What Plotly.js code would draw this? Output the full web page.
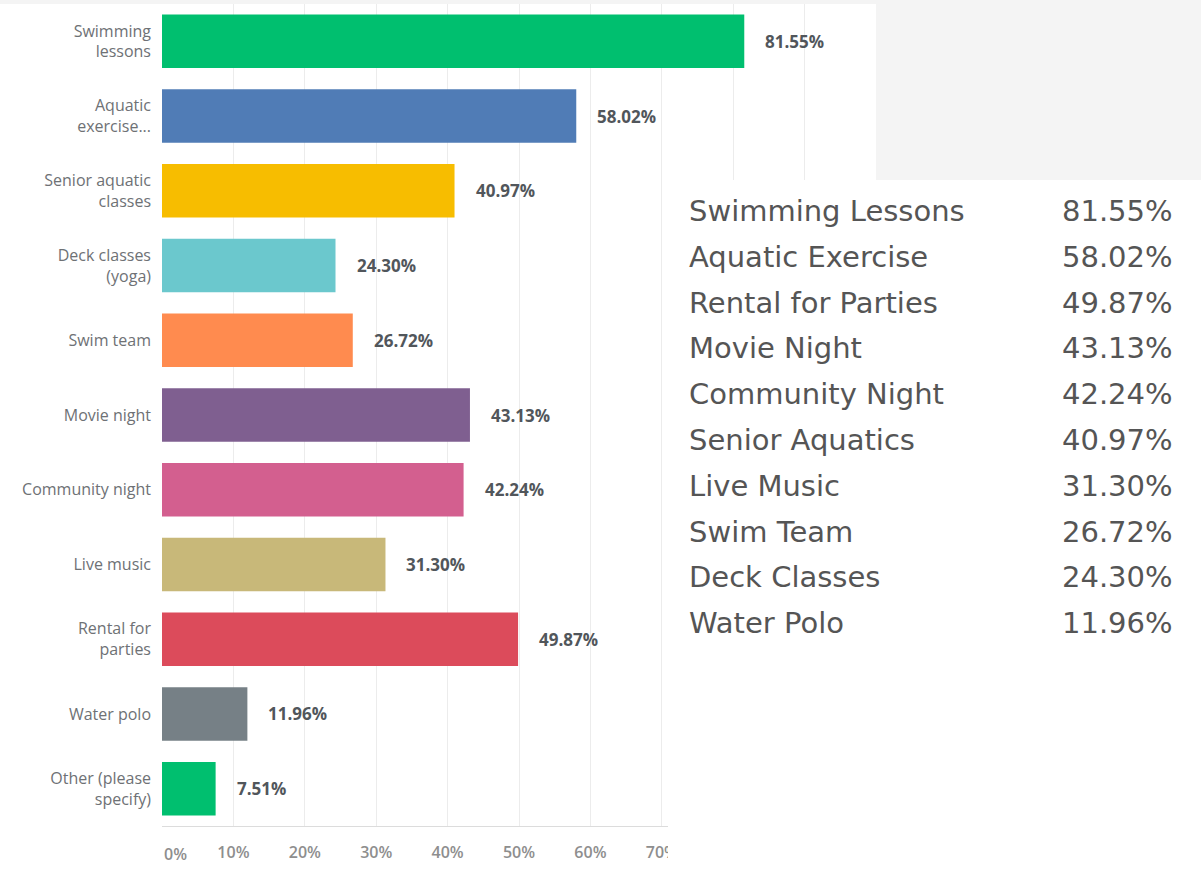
<!DOCTYPE html>
<html>
<head>
<meta charset="utf-8">
<script src="https://cdn.plot.ly/plotly-3.0.1.min.js"></script>
<style>html,body{margin:0;padding:0;background:#fff;}#chart{width:1201px;height:894px;}</style>
</head>
<body>
<div id="chart"></div>
<script>
// ---- data ----
var categories = ["Swimming<br>lessons", "Aquatic<br>exercise...", "Senior aquatic<br>classes", "Deck classes<br>(yoga)", "Swim team", "Movie night", "Community night", "Live music", "Rental for<br>parties", "Water polo", "Other (please<br>specify)"];
var values = [81.55, 58.02, 40.97, 24.30, 26.72, 43.13, 42.24, 31.30, 49.87, 11.96, 7.51];
var barColors = ["#00bf6f", "#507cb6", "#f7bd00", "#6bc8cd", "#ff8b4f", "#7f5f90", "#d35f8f", "#c8b879", "#dc4b5b", "#768086", "#00bf6f"];
var xTickVals = [0, 10, 20, 30, 40, 50, 60, 70, 80, 90, 100];
var xTickText = ["", "10%", "20%", "30%", "40%", "50%", "60%", "70%", "80%", "90%", "100%"];
var tableLabels = ["Swimming Lessons", "Aquatic Exercise", "Rental for Parties", "Movie Night", "Community Night", "Senior Aquatics", "Live Music", "Swim Team", "Deck Classes", "Water Polo"];
var tableValues = ["81.55%", "58.02%", "49.87%", "43.13%", "42.24%", "40.97%", "31.30%", "26.72%", "24.30%", "11.96%"];

// ---- layout geometry (pixels) ----
var W = 1201, H = 894;
var L = 162, R = 876, T = 4, B = 826;
function px2x(p) { return (p - L) / (R - L); }
function px2y(p) { return (B - p) / (B - T); }

var trace = {
  type: "bar",
  orientation: "h",
  x: values,
  y: categories,
  marker: { color: barColors, line: { width: 0 } },
  hoverinfo: "skip"
};

var annotations = [];
values.forEach(function (v, i) {
  annotations.push({
    xref: "x", yref: "y", x: v, y: categories[i],
    text: v.toFixed(2) + "%", showarrow: false,
    xanchor: "left", yanchor: "middle", xshift: 19,
    font: { family: "Open Sans", size: 17, color: "#51565b", weight: 700 }
  });
});
annotations.push({
  xref: "x", yref: "paper", x: 0, y: 0, yshift: -28,
  text: "0%", showarrow: false, xanchor: "left", yanchor: "middle",
  font: { family: "Open Sans", size: 16, color: "#8e8e8e", weight: 600 }
});
tableLabels.forEach(function (t, i) {
  var yp = 211 + 45.8 * i;
  annotations.push({
    xref: "paper", yref: "paper", x: px2x(687), y: px2y(yp),
    text: t, showarrow: false, xanchor: "left", yanchor: "middle",
    font: { family: "DejaVu Sans", size: 29, color: "#555555", weight: 400 }
  });
  annotations.push({
    xref: "paper", yref: "paper", x: px2x(1175), y: px2y(yp),
    text: tableValues[i], showarrow: false, xanchor: "right", yanchor: "middle",
    font: { family: "DejaVu Sans", size: 29, color: "#555555", weight: 400 }
  });
});

var shapes = [
  { type: "rect", xref: "paper", yref: "paper", layer: "above",
    x0: px2x(668), x1: px2x(W + 5), y0: px2y(180), y1: px2y(H + 5),
    fillcolor: "#ffffff", line: { width: 0 } },
  { type: "rect", xref: "paper", yref: "paper", layer: "above",
    x0: px2x(R), x1: px2x(W + 5), y0: px2y(180), y1: px2y(-5),
    fillcolor: "#f4f4f4", line: { width: 0 } },
  { type: "rect", xref: "paper", yref: "paper", layer: "above",
    x0: px2x(-5), x1: px2x(W + 5), y0: px2y(T), y1: px2y(-5),
    fillcolor: "#f4f4f4", line: { width: 0 } }
];

var layout = {
  width: W, height: H,
  margin: { l: L, r: W - R, t: T, b: H - B, pad: 0 },
  paper_bgcolor: "#ffffff", plot_bgcolor: "#ffffff",
  showlegend: false,
  bargap: 0.284,
  xaxis: {
    range: [0, 100], fixedrange: true,
    tickvals: xTickVals, ticktext: xTickText,
    showgrid: true, gridcolor: "#ececec", gridwidth: 1,
    zeroline: false, showline: true, linecolor: "#dcdcdc", linewidth: 1,
    ticks: "", ticklabelstandoff: 12,
    tickfont: { family: "Open Sans", size: 16, color: "#8e8e8e", weight: 600 }
  },
  yaxis: {
    type: "category", categoryorder: "array", categoryarray: categories,
    autorange: "reversed", fixedrange: true,
    showgrid: false, zeroline: false, showline: false,
    ticks: "", ticklabelstandoff: 10,
    tickfont: { family: "Open Sans", size: 16, color: "#6e7175", weight: 500 }
  },
  annotations: annotations,
  shapes: shapes
};

Plotly.newPlot("chart", [trace], layout, { staticPlot: true, displayModeBar: false });
</script>
</body>
</html>
